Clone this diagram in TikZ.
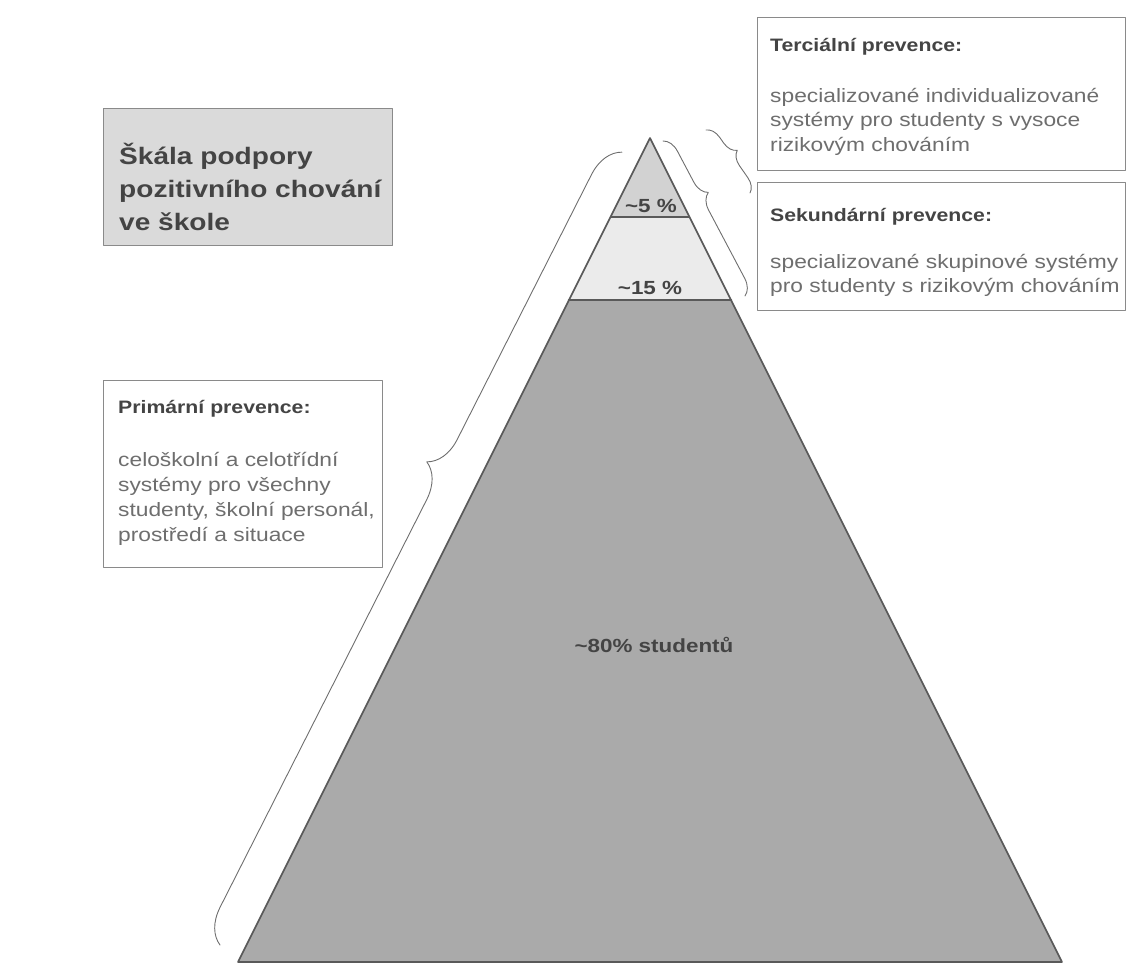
\documentclass[tikz,border=0pt]{standalone}
\usepackage{fontspec}
\setmainfont{Liberation Sans}[FakeStretch=1.18]
\usepackage{tikz}
\usetikzlibrary{decorations.pathreplacing}

\definecolor{topgray}{HTML}{D2D2D2}
\definecolor{midgray}{HTML}{EBEBEB}
\definecolor{basegray}{HTML}{AAAAAA}
\definecolor{titlegray}{HTML}{DADADA}
\definecolor{linegray}{HTML}{595959}
\definecolor{boxline}{HTML}{8A8A8A}
\definecolor{headcol}{HTML}{444444}
\definecolor{bodycol}{HTML}{6E6E6E}

\tikzset{
  infobox/.style={draw=boxline, line width=1.3pt, fill=white, anchor=north west, inner sep=0pt},
  headtxt/.style={anchor=base west, inner sep=0pt, text=headcol, font=\fontsize{18}{21}\selectfont\bfseries},
  bodytxt/.style={anchor=base west, inner sep=0pt, text=bodycol, font=\fontsize{19.3}{24}\selectfont},
  titletxt/.style={anchor=base west, inner sep=0pt, text=headcol, font=\fontsize{23.8}{33}\selectfont\bfseries},
  pctlabel/.style={inner sep=0pt, text=headcol, font=\fontsize{19}{22}\selectfont\bfseries},
  curly/.style={draw=bodycol, line width=0.9pt, decorate, decoration={brace, amplitude=#1}},
}

\begin{document}
\begin{tikzpicture}[x=1pt,y=-1pt,line cap=round,line join=round]
\useasboundingbox (0,0) rectangle (1127,969);

% pyramid
\coordinate (apex) at (650,138);
\coordinate (bl) at (238,962);
\coordinate (br) at (1062,962);
\coordinate (tl) at (610.5,217);
\coordinate (tr) at (689.5,217);
\coordinate (ml) at (569,300);
\coordinate (mr) at (731,300);
\fill[basegray] (ml) -- (bl) -- (br) -- (mr) -- cycle;
\fill[midgray] (tl) -- (ml) -- (mr) -- (tr) -- cycle;
\fill[topgray] (apex) -- (tl) -- (tr) -- cycle;
\draw[linegray, line width=1.6pt] (apex) -- (bl) -- (br) -- cycle;
\draw[linegray, line width=1.2pt] (tl) -- (tr);
\draw[linegray, line width=2.6pt] (ml) -- (mr);

\node[pctlabel] (pct5) at (651,206) {\textasciitilde5 \%};
\node[pctlabel] (pct15) at (650,288) {\textasciitilde15 \%};
\node[pctlabel] (pct80) at (654,645) {\textasciitilde80\% studentů};

% title
\node[infobox, fill=titlegray, minimum width=289, minimum height=137] (titlebox) at (103,108) {};
\foreach \txt [count=\i] in {Škála podpory, pozitivního chování, ve škole}
  \node[titletxt] (title\i) at (119,131+33*\i) {\txt};

% tertiary
\node[infobox, minimum width=368, minimum height=153] (tercbox) at (757,17) {};
\node[headtxt] (tercHead) at (770,51) {Terciální prevence:};
\foreach \txt [count=\i] in {specializované individualizované, systémy pro studenty s vysoce, rizikovým chováním}
  \node[bodytxt] (terc\i) at (770,77.5+24.5*\i) {\txt};

% secondary
\node[infobox, minimum width=368, minimum height=128] (sekbox) at (757,182) {};
\node[headtxt] (sekHead) at (770,221) {Sekundární prevence:};
\foreach \txt [count=\i] in {specializované skupinové systémy, pro studenty s rizikovým chováním}
  \node[bodytxt] (sek\i) at (770,243.5+24.5*\i) {\txt};

% primary
\node[infobox, minimum width=279, minimum height=187] (primbox) at (103,380) {};
\node[headtxt] (primHead) at (118,413) {Primární prevence:};
\foreach \txt [count=\i] in {celoškolní a celotřídní, systémy pro všechny, {studenty, školní personál,}, prostředí a situace}
  \node[bodytxt] (prim\i) at (118,442+24.8*\i) {\txt};

% braces
\coordinate (lbraceA) at (220,945);
\coordinate (lbraceB) at (622,152);
\coordinate (sbraceA) at (663,141);
\coordinate (sbraceB) at (745,296);
\coordinate (tbraceA) at (706,130);
\coordinate (tbraceB) at (750,193);
\draw[curly=34, decoration={aspect=0.59}] (lbraceA) -- (lbraceB);
\draw[curly=16, decoration={aspect=0.38}] (sbraceA) -- (sbraceB);
\draw[curly=14, decoration={aspect=0.45}] (tbraceA) -- (tbraceB);
\end{tikzpicture}
\end{document}
